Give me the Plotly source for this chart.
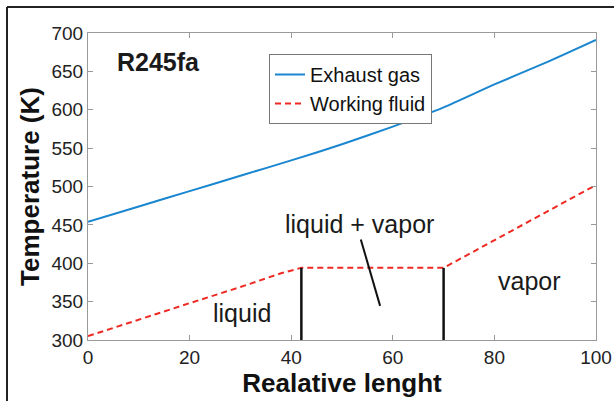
import plotly.graph_objects as go

# Data
exhaust_x = [0, 10, 20, 30, 40, 50, 60, 70, 80, 90, 100]
exhaust_T = [454, 474, 494, 514, 534, 555, 578, 603, 633, 661, 691]

fluid_x = [0, 10, 20, 30, 38, 42, 70, 100]
fluid_T = [305, 327, 348, 369, 387, 394, 394, 502]

boundary_x = [42, 70]
boundary_Tlow = 300
boundary_Thigh = 394

pointer_x = [53.7, 57.5]
pointer_T = [431, 344.5]

labels = [
    ("R245fa", 13.8, 662, True),
    ("liquid + vapor", 53.5, 451, False),
    ("liquid", 30.3, 335, False),
    ("vapor", 87, 377, False),
]

x_ticks = [0, 20, 40, 60, 80, 100]
y_ticks = [300, 350, 400, 450, 500, 550, 600, 650, 700]

FONT = "Liberation Sans, Arial, Helvetica, sans-serif"
W, H = 614, 401
L, R, T, B = 88, 18, 33, 61

fig = go.Figure()
fig.add_trace(go.Scatter(x=exhaust_x, y=exhaust_T, mode="lines", name="Exhaust gas",
                         line=dict(color="#1a86d0", width=2, shape="spline", smoothing=0.6)))
fig.add_trace(go.Scatter(x=fluid_x, y=fluid_T, mode="lines", name="Working fluid",
                         line=dict(color="#ee2a24", width=2, dash="6px,4px")))
for bx in boundary_x:
    fig.add_trace(go.Scatter(x=[bx, bx], y=[boundary_Tlow, boundary_Thigh], mode="lines",
                             line=dict(color="#111111", width=2.5), showlegend=False,
                             hoverinfo="skip"))
fig.add_trace(go.Scatter(x=pointer_x, y=pointer_T, mode="lines",
                         line=dict(color="#111111", width=2), showlegend=False,
                         hoverinfo="skip"))

for text, x, y, bold in labels:
    fig.add_annotation(x=x, y=y, xref="x", yref="y", text=f"<b>{text}</b>" if bold else text,
                       showarrow=False, font=dict(size=25, color="#1a1a1a", family=FONT))

# outer frame (top and left edges)
pw = W - L - R
ph = H - T - B
def px2paper_x(px):
    return (px - L) / pw
def py2paper_y(py):
    return (H - B - py) / ph
fig.add_shape(type="line", xref="paper", yref="paper",
              x0=px2paper_x(7), x1=px2paper_x(614), y0=py2paper_y(7), y1=py2paper_y(7),
              line=dict(color="#222222", width=2))
fig.add_shape(type="line", xref="paper", yref="paper",
              x0=px2paper_x(7), x1=px2paper_x(7), y0=py2paper_y(7), y1=py2paper_y(401),
              line=dict(color="#222222", width=2))

axis_common = dict(showgrid=False, zeroline=False, showline=True, linecolor="#9a9a9a",
                   linewidth=1, mirror="ticks", ticks="inside", ticklen=5, automargin=False,
                   tickcolor="#9a9a9a", tickfont=dict(size=19, color="#222222", family=FONT))

fig.update_xaxes(range=[0, 100], tickvals=x_ticks, **axis_common,
                 title=dict(text="<b>Realative lenght</b>", standoff=2,
                            font=dict(size=26, color="#111111", family=FONT)))
fig.update_yaxes(range=[300, 700], tickvals=y_ticks, **axis_common,
                 title=dict(text="<b>Temperature (K)</b>", standoff=4,
                            font=dict(size=26, color="#111111", family=FONT)))

fig.update_layout(
    width=W, height=H,
    margin=dict(l=L, r=R, t=T, b=B),
    paper_bgcolor="white", plot_bgcolor="white",
    font=dict(family=FONT),
    showlegend=True,
    legend=dict(x=px2paper_x(269), y=py2paper_y(54), xanchor="left", yanchor="top",
                bordercolor="#777777", borderwidth=1, bgcolor="white",
                font=dict(size=20, color="#111111", family=FONT),
                tracegroupgap=0, itemwidth=30),
)

fig.write_html("out.html")
